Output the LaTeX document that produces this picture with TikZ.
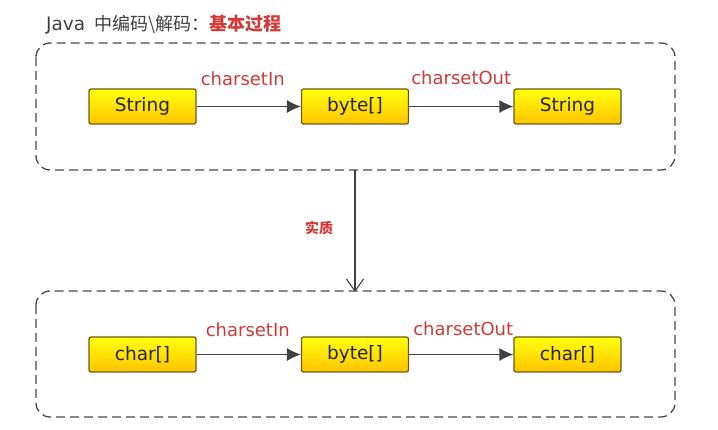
\documentclass[tikz,border=0pt]{standalone}
\usepackage{fontspec}
\setmainfont{DejaVu Sans}
\newfontfamily\cjk{Noto Sans CJK SC}
\usetikzlibrary{arrows.meta,shadings}
\definecolor{lbl}{HTML}{D03A3A}
\definecolor{dashc}{HTML}{4A4A4A}
\definecolor{boxedge}{HTML}{6B5A1E}
\tikzset{
  x=1pt,y=-1pt,
  item/.style={draw=boxedge,line width=1.2pt,rounded corners=2pt,minimum width=107pt,minimum height=35pt,inner sep=0pt,
    top color=yellow!95!white,bottom color={rgb,255:red,255;green,196;blue,0},font=\fontsize{18.5}{20}\selectfont,text=black!85},
  group/.style={draw=dashc,line width=1.3pt,dash pattern=on 9pt off 5pt,rounded corners=14pt},
  flow/.style={draw=black!75,line width=1.3pt,-{Latex[length=14pt,width=13pt]}},
  lab/.style={text=lbl,font=\fontsize{18}{20}\selectfont,inner sep=0pt},
  down/.style={draw=black!75,line width=1.3pt,-{Straight Barb[length=12pt,width=17pt,line width=1.1pt]}}
}
\begin{document}
\begin{tikzpicture}
\useasboundingbox (0,0) rectangle (718,430);
\node[anchor=west,inner sep=0pt,text=black!75,font=\fontsize{18.5}{20}\selectfont] (title) at (46,25) {Java {\cjk\fontsize{18}{20}\selectfont\,中编码\textbackslash 解码：}{\cjk\fontsize{18}{20}\selectfont\color{lbl}\bfseries 基本过程}};
\draw[group] (36,43) rectangle (675,170);
\draw[group] (36,291) rectangle (675,417);
\node[item] (s1) at (142.5,106.5) {String};
\node[item] (b1) at (355,106.5) {byte[]};
\node[item] (s2) at (567.5,106.5) {String};
\node[item] (c1) at (142.5,354.5) {char[]};
\node[item] (b2) at (355,354.5) {byte[]};
\node[item] (c2) at (567.5,354.5) {char[]};
\draw[flow] (s1) -- node[lab,midway,yshift=28pt,xshift=-6pt] (l1) {charsetIn} (b1);
\draw[flow] (b1) -- node[lab,midway,yshift=29pt] (l2) {charsetOut} (s2);
\draw[flow] (c1) -- node[lab,midway,yshift=25pt,xshift=-1pt] (l3) {charsetIn} (b2);
\draw[flow] (b2) -- node[lab,midway,yshift=26pt,xshift=2pt] (l4) {charsetOut} (c2);
\coordinate (t) at (355,170);
\coordinate (u) at (355,292);
\draw[down] (t) -- (u);
\node[text=lbl,font=\cjk\fontsize{14}{15}\selectfont\bfseries] (q) at (319,228) {实质};
\end{tikzpicture}
\end{document}
